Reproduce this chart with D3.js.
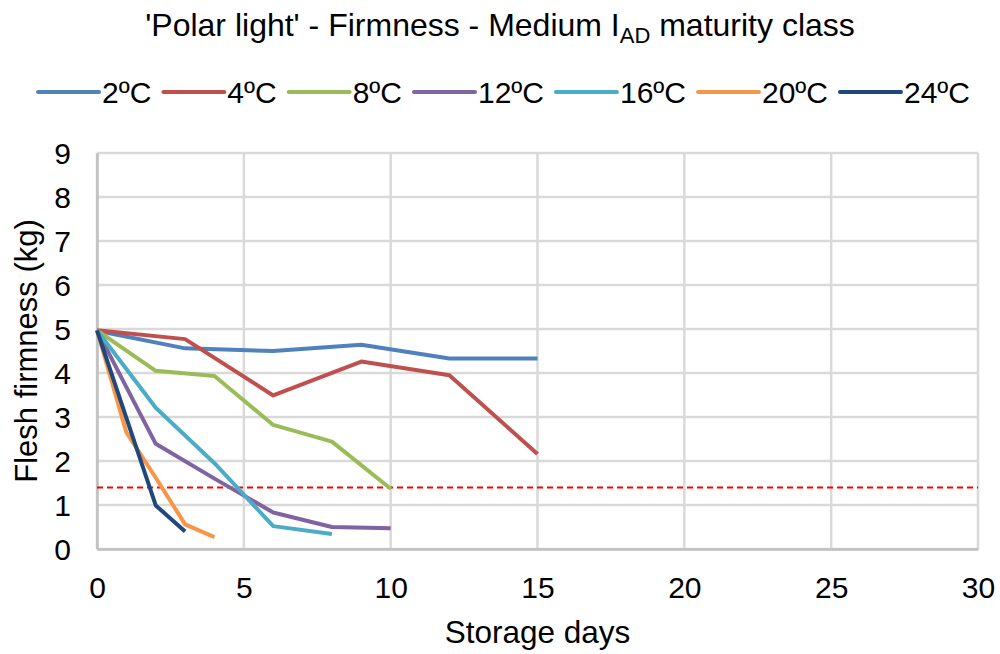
<!DOCTYPE html>
<html>
<head>
<meta charset="utf-8">
<script src="https://cdn.jsdelivr.net/npm/d3@7"></script>
<style>
  body { margin: 0; background: #fff; }
  text { font-family: "Liberation Sans", Arial, sans-serif; fill: #000; }
</style>
</head>
<body>
<script>
// series labels and colours
var seriesNames = ["2ºC", "4ºC", "8ºC", "12ºC", "16ºC", "20ºC", "24ºC"];
var seriesColors = ["#4f81bd", "#c0504d", "#9bbb59", "#8064a2", "#4bacc6", "#f79646", "#1f497d"];

// storage days and firmness (kg) per temperature
var days2 = [0, 3, 6, 9, 12, 15];
var firm2 = [4.96, 4.56, 4.50, 4.64, 4.33, 4.33];
var days4 = [0, 3, 6, 9, 12, 15];
var firm4 = [4.97, 4.77, 3.49, 4.26, 3.95, 2.16];
var days8 = [0, 2, 4, 6, 8, 10];
var firm8 = [4.97, 4.05, 3.93, 2.82, 2.44, 1.37];
var days12 = [0, 2, 4, 6, 8, 10];
var firm12 = [4.97, 2.39, 1.60, 0.83, 0.50, 0.47];
var days16 = [0, 2, 4, 6, 8];
var firm16 = [4.97, 3.21, 1.95, 0.52, 0.34];
var days20 = [0, 1, 2, 3, 4];
var firm20 = [4.97, 2.65, 1.62, 0.56, 0.27];
var days24 = [0, 2, 3];
var firm24 = [4.97, 0.99, 0.40];

var limitFirmness = 1.4;

var xTicks = [0, 5, 10, 15, 20, 25, 30];
var yTicks = [0, 1, 2, 3, 4, 5, 6, 7, 8, 9];

var allDays = [days2, days4, days8, days12, days16, days20, days24];
var allFirm = [firm2, firm4, firm8, firm12, firm16, firm20, firm24];

var series = seriesNames.map(function(name, i) {
  return {
    name: name,
    color: seriesColors[i],
    values: allDays[i].map(function(d, j) { return {day: d, firm: allFirm[i][j]}; })
  };
});

var width = 1000, height = 654;
var margin = {top: 153, right: 22, bottom: 105, left: 97};

var x = d3.scaleLinear().domain([0, 30]).range([margin.left, width - margin.right]);
var y = d3.scaleLinear().domain([0, 9]).range([height - margin.bottom, margin.top]);

var svg = d3.select("body").append("svg")
    .attr("width", width)
    .attr("height", height);

// grid
svg.append("g")
  .selectAll("line.h")
  .data(yTicks)
  .enter().append("line")
    .attr("x1", x(0)).attr("x2", x(30))
    .attr("y1", function(d) { return y(d); })
    .attr("y2", function(d) { return y(d); })
    .attr("stroke", "#d9d9d9")
    .attr("stroke-width", 2.5);

svg.append("g")
  .selectAll("line.v")
  .data(xTicks)
  .enter().append("line")
    .attr("x1", function(d) { return x(d); })
    .attr("x2", function(d) { return x(d); })
    .attr("y1", y(0)).attr("y2", y(9))
    .attr("stroke", "#d9d9d9")
    .attr("stroke-width", 2.5);

// axes (labels only, lines drawn by the grid)
var xAxis = svg.append("g")
    .attr("transform", "translate(0," + y(0) + ")")
    .call(d3.axisBottom(x).tickValues(xTicks).tickSize(0).tickPadding(49));
xAxis.select(".domain").attr("stroke", "#bfbfbf").attr("stroke-width", 2.5);
xAxis.selectAll("text").style("font-size", "30px").attr("dy", 0);

var yAxis = svg.append("g")
    .attr("transform", "translate(" + x(0) + ",0)")
    .call(d3.axisLeft(y).tickValues(yTicks).tickSize(0).tickPadding(26));
yAxis.select(".domain").attr("stroke", "#bfbfbf").attr("stroke-width", 2.5);
yAxis.selectAll("text").style("font-size", "30px").attr("dy", "0.35em");

// threshold line
svg.append("line")
    .attr("x1", x(0)).attr("x2", x(30))
    .attr("y1", y(limitFirmness)).attr("y2", y(limitFirmness))
    .attr("stroke", "#ff0000")
    .attr("stroke-width", 2)
    .attr("stroke-dasharray", "6,4");

// series lines
var line = d3.line()
    .x(function(d) { return x(d.day); })
    .y(function(d) { return y(d.firm); });

svg.append("g")
  .selectAll("path")
  .data(series)
  .enter().append("path")
    .attr("d", function(d) { return line(d.values); })
    .attr("fill", "none")
    .attr("stroke", function(d) { return d.color; })
    .attr("stroke-width", 4)
    .attr("stroke-linejoin", "round");

// title
var title = svg.append("text")
    .attr("x", width / 2)
    .attr("y", 36)
    .attr("text-anchor", "middle")
    .style("font-size", "32px");
title.append("tspan").text("'Polar light' - Firmness - Medium I");
title.append("tspan").attr("dy", 7).style("font-size", "22px").text("AD");
title.append("tspan").attr("dy", -7).text(" maturity class");

// axis titles
svg.append("text")
    .attr("x", (x(0) + x(30)) / 2)
    .attr("y", 643)
    .attr("text-anchor", "middle")
    .style("font-size", "31.5px")
    .text("Storage days");

svg.append("text")
    .attr("transform", "translate(37," + (y(0) + y(9)) / 2 + ") rotate(-90)")
    .attr("text-anchor", "middle")
    .style("font-size", "31px")
    .text("Flesh firmness (kg)");

// legend
var legend = svg.append("g");
var lx = 0;
series.forEach(function(s) {
  var g = legend.append("g").attr("transform", "translate(" + lx + ",0)");
  g.append("line")
      .attr("x1", 0).attr("x2", 61)
      .attr("y1", 0).attr("y2", 0)
      .attr("stroke", s.color)
      .attr("stroke-width", 4)
      .attr("stroke-linecap", "round");
  var t = g.append("text")
      .attr("x", 64)
      .attr("y", 10.5)
      .style("font-size", "30px")
      .text(s.name);
  lx += 64 + t.node().getComputedTextLength() + 12;
});
lx -= 12;
legend.attr("transform", "translate(" + ((width - lx) / 2 + 4) + ",92)");
</script>
</body>
</html>
